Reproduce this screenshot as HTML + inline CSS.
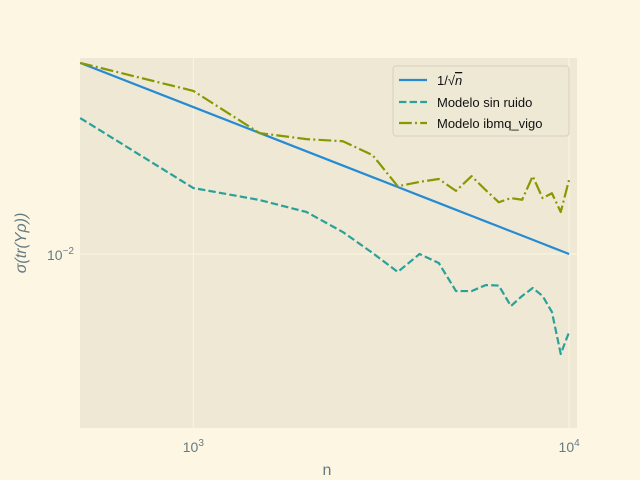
<!DOCTYPE html>
<html><head><meta charset="utf-8"><style>
body{margin:0;background:#FDF6E3;}
svg{display:block;font-family:"Liberation Sans","DejaVu Sans",sans-serif;}
</style></head><body>
<svg id="chart" width="640" height="480" viewBox="0 0 640 480">
<rect width="640" height="480" fill="#FDF6E3"/>
<rect x="80" y="58" width="497" height="370" fill="#EEE8D5"/>
<g id="grid"></g><g id="ticks"></g><g id="series"></g>
<text x="327" y="475" text-anchor="middle" font-size="16" fill="#657b83">n</text>
<text transform="translate(26,243) rotate(-90)" text-anchor="middle" font-size="16" font-style="italic" fill="#657b83">σ(tr(Yρ))</text>
<g>
<rect x="393" y="66" width="176" height="70" rx="3" fill="#EEE8D5" fill-opacity="0.8" stroke="#d6d0bd"/>
<line x1="399" y1="80" x2="427" y2="80" stroke="#268BD2" stroke-width="2.2"/>
<text x="437" y="85" font-size="13" fill="#111">1/√<tspan font-style="italic" text-decoration="overline">n</tspan></text>
<line x1="399" y1="102" x2="427" y2="102" stroke="#2AA198" stroke-width="2.2" stroke-dasharray="7.4,3.2"/>
<text x="437" y="107" font-size="13" fill="#111">Modelo sin ruido</text>
<line x1="399" y1="123" x2="427" y2="123" stroke="#859900" stroke-width="2.2" stroke-dasharray="12.8,3.2,2,3.2"/>
<text x="437" y="128" font-size="13" fill="#111">Modelo ibmq_vigo</text>
</g>
</svg>
<script>
const nValues=[500,1000,1500,2000,2500,3000,3500,4000,4500,5000,5500,6000,6500,7000,7500,8000,8500,9000,9500,10000];
const sinRuido=[0.02902,0.01677,0.01527,0.01390,0.01188,0.01008,0.00869,0.0100,0.00932,0.00748,0.00748,0.00784,0.00781,0.00665,0.00720,0.00766,0.00720,0.00635,0.00457,0.00543];
const ibmqVigo=[0.0447,0.0359,0.0258,0.0246,0.0242,0.0217,0.0170,0.0176,0.0180,0.0164,0.0184,0.0165,0.0150,0.0155,0.0153,0.0184,0.0155,0.0161,0.0139,0.0179];
const xMajorTicks=[1000,10000];
const xMajorLabels=["3","4"];
const yMajorTicks=[0.01];
const yMajorLabels=["−2"];
const NS="http://www.w3.org/2000/svg";
const L=80,R=577,T=58,B=428;
const xLo=Math.log10(500)-0.0005,xHi=4.021;
const yLo=-2.592,yHi=-1.333;
function X(v){return L+(Math.log10(v)-xLo)/(xHi-xLo)*(R-L);}
function Y(v){return B-(Math.log10(v)-yLo)/(yHi-yLo)*(B-T);}
function mk(tag,attrs,parent){const e=document.createElementNS(NS,tag);for(const k in attrs)e.setAttribute(k,attrs[k]);parent.appendChild(e);return e;}
const grid=document.getElementById('grid'),ticks=document.getElementById('ticks'),ser=document.getElementById('series');
xMajorTicks.forEach((t,i)=>{const x=X(t);
 const g=mk('line',{x1:x,x2:x,y1:T,y2:B,stroke:'#FDF6E3','stroke-width':1},grid);
 
 
 const tx=mk('text',{x:x,y:452,'text-anchor':'middle','font-size':14,fill:'#657b83'},ticks);
 
 
 tx.innerHTML='10<tspan dy="-6" font-size="10">'+xMajorLabels[i]+'</tspan>';
});
yMajorTicks.forEach((t,i)=>{const y=Y(t);
 const g=mk('line',{x1:L,x2:R,y1:y,y2:y,stroke:'#FDF6E3','stroke-width':1},grid);
 
 
 const tx=mk('text',{x:74,y:y+6,'text-anchor':'end','font-size':14,fill:'#657b83'},ticks);
 
 
 tx.innerHTML='10<tspan dy="-6" font-size="10">'+yMajorLabels[i]+'</tspan>';
});
function drawLine(vals,color,dash,name){
 const pts=nValues.map((n,i)=>X(n).toFixed(2)+','+Y(vals[i]).toFixed(2)).join(' ');
 const p=mk('polyline',{points:pts,fill:'none',stroke:color,'stroke-width':2.2,'stroke-dasharray':dash,'stroke-linejoin':'round'},ser);
 
 
}
drawLine(nValues.map(n=>1/Math.sqrt(n)),'#268BD2','none','line-inv-sqrt-n');
drawLine(sinRuido,'#2AA198','7.4,3.2','line-modelo-sin-ruido');
drawLine(ibmqVigo,'#859900','12.8,3.2,2,3.2','line-modelo-ibmq-vigo');
</script>
</body></html>
